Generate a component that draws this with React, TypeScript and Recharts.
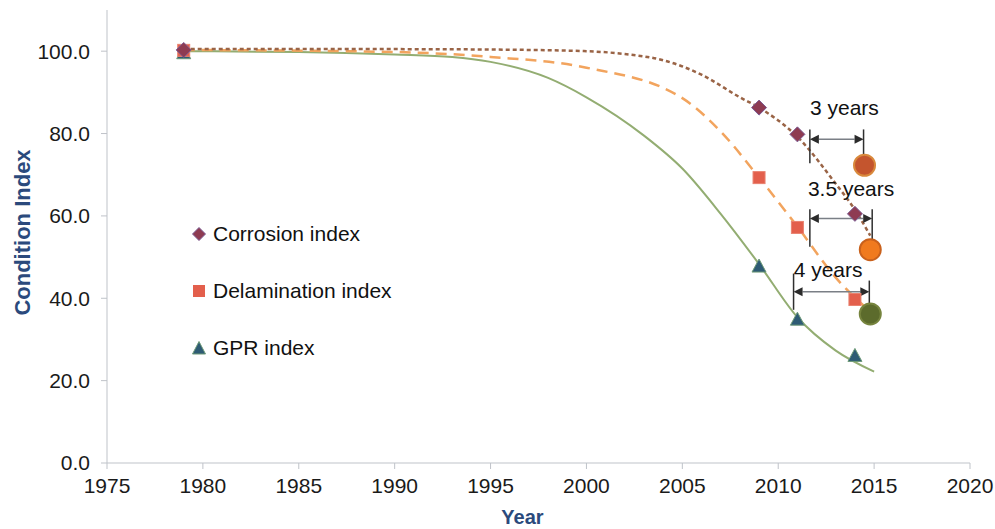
import React from "react";
import {
  ComposedChart,
  Line,
  Scatter,
  XAxis,
  YAxis,
  ReferenceLine,
  ReferenceDot,
  Legend,
} from "recharts";

const FONT = '"Liberation Sans", Arial, Helvetica, sans-serif';

// observed condition indices
const corrosionObs = [
  { year: 1979, value: 100.3 },
  { year: 2009, value: 86.3 },
  { year: 2011, value: 79.8 },
  { year: 2014, value: 60.5 },
];
const delaminationObs = [
  { year: 1979, value: 100.2 },
  { year: 2009, value: 69.3 },
  { year: 2011, value: 57.2 },
  { year: 2014, value: 39.7 },
];
const gprObs = [
  { year: 1979, value: 99.5 },
  { year: 2009, value: 47.7 },
  { year: 2011, value: 34.8 },
  { year: 2014, value: 26.0 },
];

// fitted deterioration curves
const corrosionFit = [
  { year: 1979, value: 100.5 },
  { year: 1990, value: 100.5 },
  { year: 1995, value: 100.4 },
  { year: 2000, value: 100.0 },
  { year: 2002, value: 99.3 },
  { year: 2004, value: 97.8 },
  { year: 2006, value: 94.3 },
  { year: 2008, value: 88.8 },
  { year: 2009, value: 86.3 },
  { year: 2011, value: 79.2 },
  { year: 2013, value: 67.8 },
  { year: 2014, value: 61.5 },
  { year: 2014.8, value: 55.2 },
];
const delaminationFit = [
  { year: 1979, value: 100.3 },
  { year: 1990, value: 99.8 },
  { year: 1995, value: 98.6 },
  { year: 2000, value: 96.0 },
  { year: 2005, value: 88.6 },
  { year: 2007, value: 80.5 },
  { year: 2009, value: 69.3 },
  { year: 2011, value: 57.4 },
  { year: 2013, value: 45.0 },
  { year: 2014.5, value: 38.0 },
];
const gprFit = [
  { year: 1979, value: 100.0 },
  { year: 1985, value: 99.8 },
  { year: 1990, value: 99.2 },
  { year: 1993, value: 98.6 },
  { year: 1995, value: 97.4 },
  { year: 1998, value: 93.5 },
  { year: 2000, value: 88.8 },
  { year: 2003, value: 79.5 },
  { year: 2005, value: 71.5 },
  { year: 2007, value: 60.5 },
  { year: 2009, value: 48.3 },
  { year: 2011, value: 35.4 },
  { year: 2013, value: 27.3 },
  { year: 2015, value: 22.2 },
];

// projected indices (large circles)
const corrosionProj = [{ year: 2014.5, value: 72.3 }];
const delaminationProj = [{ year: 2014.8, value: 51.8 }];
const gprProj = [{ year: 2014.8, value: 36.2 }];

const yearTicks = [1975, 1980, 1985, 1990, 1995, 2000, 2005, 2010, 2015, 2020];
const indexTicks = [0, 20, 40, 60, 80, 100];
const seriesNames = ["Corrosion index", "Delamination index", "GPR index"];

// time-lag annotations
const lagSpans = [
  { text: "3 years", from: 2011.65, to: 2014.45, at: 78.6, left: [81, 72.8], right: [81, 72.3], labelYear: 2013.45, labelValue: 86.4 },
  { text: "3.5 years", from: 2011.65, to: 2014.9, at: 59.4, left: [61.6, 52.5], right: [61.6, 51.8], labelYear: 2013.8, labelValue: 66.7 },
  { text: "4 years", from: 2010.8, to: 2014.75, at: 41.6, left: [46, 37.2], right: [44.3, 36.2], labelYear: 2012.6, labelValue: 47.0 },
];

const Diamond = ({ cx, cy }: any) => (
  <polygon
    points={`${cx},${cy - 7.5} ${cx + 7.5},${cy} ${cx},${cy + 7.5} ${cx - 7.5},${cy}`}
    fill="#8E3B52"
    stroke="#7B5A92"
    strokeWidth={1}
  />
);
const Square = ({ cx, cy }: any) => (
  <rect x={cx - 6} y={cy - 6} width={12} height={12} fill="#E35F4C" stroke="#E98270" strokeWidth={1} />
);
const Triangle = ({ cx, cy }: any) => (
  <polygon
    points={`${cx},${cy - 7.5} ${cx + 7},${cy + 5.5} ${cx - 7},${cy + 5.5}`}
    fill="#2E5B74"
    stroke="#6E9A78"
    strokeWidth={1}
  />
);
const bigCircle = (fill: string, ring: string) => ({ cx, cy }: any) => (
  <circle cx={cx} cy={cy} r={10.5} fill={fill} stroke={ring} strokeWidth={2} />
);

const ArrowSpan = ({ x1, y1, x2, y2 }: any) => {
  const h = 9;
  const w = 4.5;
  return (
    <g>
      <line x1={x1 + h} y1={y1} x2={x2 - h} y2={y2} stroke="#7a7f86" strokeWidth={1.5} />
      <polygon points={`${x1},${y1} ${x1 + h},${y1 - w} ${x1 + h},${y1 + w}`} fill="#2b2b2b" />
      <polygon points={`${x2},${y2} ${x2 - h},${y2 - w} ${x2 - h},${y2 + w}`} fill="#2b2b2b" />
    </g>
  );
};

const legendIcons = [
  <svg width={14} height={14} key="d">
    <polygon points="7,0.5 13.5,7 7,13.5 0.5,7" fill="#8E3B52" stroke="#7B5A92" />
  </svg>,
  <svg width={14} height={14} key="s">
    <rect x={1} y={1} width={12} height={12} fill="#E35F4C" />
  </svg>,
  <svg width={14} height={14} key="t">
    <polygon points="7,0.5 13.5,13 0.5,13" fill="#2E5B74" stroke="#6E9A78" />
  </svg>,
];

const LegendBox = () => (
  <div style={{ fontFamily: FONT, fontSize: 21, color: "#111" }}>
    {seriesNames.map((name, i) => (
      <div key={name} style={{ display: "flex", alignItems: "center", height: 57 }}>
        {legendIcons[i]}
        <span style={{ marginLeft: 7 }}>{name}</span>
      </div>
    ))}
  </div>
);

const tickStyle = { fontSize: 21, fill: "#1a1a1a", fontFamily: FONT };

export default function App() {
  return (
    <div style={{ position: "absolute", left: 0, top: 0, background: "#fff" }}>
      <ComposedChart width={995} height={529} margin={{ top: 10, right: 25, left: 0, bottom: 0 }}>
        <XAxis
          dataKey="year"
          type="number"
          domain={[1975, 2020]}
          ticks={yearTicks}
          height={66}
          tick={tickStyle}
          tickSize={6}
          tickMargin={9}
          stroke="#bfc3c9"
          allowDataOverflow
          label={({ viewBox }: any) => (
            <text
              x={viewBox.x + viewBox.width / 2 - 16}
              y={viewBox.y + 61}
              textAnchor="middle"
              fontFamily={FONT}
              fontSize={20}
              fontWeight="bold"
              fill="#2B4A7C"
            >
              Year
            </text>
          )}
        />
        <YAxis
          type="number"
          domain={[0, 110]}
          ticks={indexTicks}
          width={107}
          tick={tickStyle}
          tickSize={6}
          tickMargin={11}
          stroke="#bfc3c9"
          tickFormatter={(v: number) => v.toFixed(1)}
          label={({ viewBox }: any) => {
            const x = viewBox.x + 22;
            const y = viewBox.y + viewBox.height / 2 - 4;
            return (
              <text
                x={x}
                y={y}
                transform={`rotate(-90 ${x} ${y})`}
                textAnchor="middle"
                dominantBaseline="central"
                fontFamily={FONT}
                fontSize={22}
                fontWeight="bold"
                fill="#2B4A7C"
              >
                Condition Index
              </text>
            );
          }}
        />
        <Legend
          layout="vertical"
          align="center"
          verticalAlign="middle"
          content={<LegendBox />}
          wrapperStyle={{ position: "absolute", left: 192, top: 205, width: 260 }}
        />

        <Line data={gprFit} dataKey="value" type="monotone" stroke="#93AD72" strokeWidth={2} dot={false} isAnimationActive={false} />
        <Line data={delaminationFit} dataKey="value" type="monotone" stroke="#F2A45E" strokeWidth={2.5} strokeDasharray="11 7" dot={false} isAnimationActive={false} />
        <Line data={corrosionFit} dataKey="value" type="monotone" stroke="#9A6446" strokeWidth={2.5} strokeDasharray="4 3" dot={false} isAnimationActive={false} />

        <Scatter data={gprObs} dataKey="value" shape={<Triangle />} isAnimationActive={false} />
        <Scatter data={delaminationObs} dataKey="value" shape={<Square />} isAnimationActive={false} />
        <Scatter data={corrosionObs} dataKey="value" shape={<Diamond />} isAnimationActive={false} />

        <Scatter data={corrosionProj} dataKey="value" shape={bigCircle("#C4552E", "#D9893C")} isAnimationActive={false} />
        <Scatter data={delaminationProj} dataKey="value" shape={bigCircle("#F07A1E", "#C9611C")} isAnimationActive={false} />
        <Scatter data={gprProj} dataKey="value" shape={bigCircle("#5C6B2C", "#76843E")} isAnimationActive={false} />

        {lagSpans.map((s) => (
          <ReferenceLine
            key={s.text + "-l"}
            segment={[{ x: s.from, y: s.left[0] }, { x: s.from, y: s.left[1] }]}
            stroke="#2f2f2f"
            strokeWidth={1.5}
          />
        ))}
        {lagSpans.map((s) => (
          <ReferenceLine
            key={s.text + "-r"}
            segment={[{ x: s.to, y: s.right[0] }, { x: s.to, y: s.right[1] }]}
            stroke="#2f2f2f"
            strokeWidth={1.5}
          />
        ))}
        {lagSpans.map((s) => (
          <ReferenceLine
            key={s.text + "-a"}
            segment={[{ x: s.from, y: s.at }, { x: s.to, y: s.at }]}
            shape={ArrowSpan}
          />
        ))}
        {lagSpans.map((s) => (
          <ReferenceDot
            key={s.text + "-t"}
            x={s.labelYear}
            y={s.labelValue}
            r={0}
            fill="none"
            stroke="none"
            label={{ value: s.text, position: "center", fontSize: 21, fill: "#111", fontFamily: FONT }}
          />
        ))}
      </ComposedChart>
    </div>
  );
}
